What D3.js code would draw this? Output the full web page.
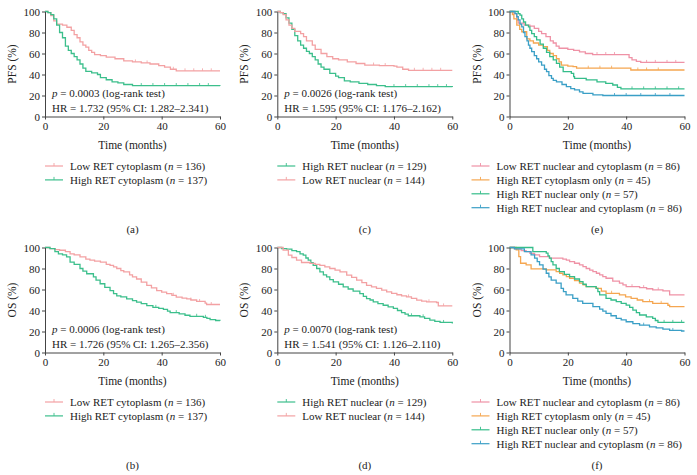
<!DOCTYPE html>
<html>
<head>
<meta charset="utf-8">
<script src="https://cdn.jsdelivr.net/npm/d3@7"></script>
<style>
  body { margin: 0; background: #fff; }
  svg text { font-family: "Liberation Serif", "Times New Roman", serif; fill: #222; }
</style>
</head>
<body>
<svg id="chart" width="697" height="475"></svg>
<script>
// ---- data: [time (months), survival (%)] ----
// (a) PFS, RET cytoplasm
const pfsCytoLow = [[0,100],[1,99],[2,96],[3,91],[4,88],[6,87],[7.5,85],[9,82],[10,78],[11,75],[12,71],[13,68],[14,66],[15,63],[16,61],[17,59],[19,58],[21,56.5],[24,55],[27,53],[30,52],[33,51],[36,50],[39,48.5],[41,47],[43,45],[45,43.5],[60,43.5]];
const pfsCytoHigh = [[0,100],[1,99],[2,97],[3,93],[4,87],[5,80],[6,75],[7,67],[8,63],[9,60],[10,57],[11,54],[12,50],[13,46],[14,43],[16,41.5],[18,40],[19,37],[21,35],[23,33],[25,32],[27,30.5],[30,29.5],[60,29.2]];
const pfsCytoLowCens = [31,35,44,48,51,54,57];
const pfsCytoHighCens = [33,37,41,45,49,53,56];
// (c) PFS, RET nuclear
const pfsNucHigh = [[0,100],[1,99],[2,98],[3,94],[4,89],[5,83],[6,77],[7,72],[8,68],[9,65],[10,62],[11,60],[12,57],[13,54],[14,50],[15,47],[16,45],[18,41],[20,38.5],[21,37],[23,34],[25,33],[28,31.6],[31,30.5],[34,29.5],[37,28.5],[60,28]];
const pfsNucLow = [[0,100],[1,99],[2,97],[3,92],[4,87],[5,84],[6,81],[8,79],[9,76],[10,72],[12,68],[13,64],[15,60],[17,57],[19,55],[21,54],[24,52],[27,50.5],[30,49],[35,48.5],[40,48],[41,47],[43,45],[45,44],[60,44]];
const pfsNucHighCens = [40,44,48,52,55,58];
const pfsNucLowCens = [33,37,47,50,53,56];
// (e) PFS, combined groups
const pfsLowBoth = [[0,100],[1.5,98],[2.5,92],[3,89],[5,87],[7,86],[8.5,84],[10,81],[11,79],[12.5,76],[14,72],[15,70],[16,67],[17,65],[20,64],[22,63],[24,61.5],[26,60],[28.5,59],[41,56],[42,54],[43.5,52.5],[45,51.5],[60,51.5]];
const pfsCytoOnly = [[0,100],[1,97],[1.5,93],[2.5,87],[3.5,83],[4.2,80.7],[5.9,74],[7,72],[8.2,70],[10,68],[11.6,66.5],[13,63],[13.8,60],[15,58],[16.1,55],[17,52],[17.8,49],[20,48],[21.8,47.5],[23,46],[41.6,44.3],[60,44.3]];
const pfsNucOnly = [[0,100],[3,98],[3.6,96.5],[4.2,93],[4.8,90],[5.5,87],[6.5,85.4],[7,82],[7.6,79],[8.5,76],[9.3,73],[10.5,69],[11.6,65],[12.7,61],[13.8,57],[15,54],[16.1,50.6],[17.2,47],[18.4,42.7],[21.2,41],[22,38],[22.3,36.4],[26.3,34.8],[30,33],[33,31.6],[35.4,30],[37,27.8],[38.2,26.3],[60,26.3]];
const pfsHighBoth = [[0,100],[1.9,98],[2.5,95],[3,92],[3.6,88],[4.2,85.4],[4.8,80],[5.3,76],[6,72],[6.5,68],[7,65],[7.6,61.7],[8.5,58],[9.3,55],[10,52],[11,49],[12,45],[12.7,42.7],[13.5,39],[14.4,36.4],[15,34.5],[16.1,33],[18,30.5],[19.5,28.5],[21,26.5],[22.3,25.3],[24,23.5],[25.2,22],[28.6,20.6],[32,20],[60,20]];
const pfsLowBothCens = [30,33,36,47,50,54,57];
const pfsCytoOnlyCens = [27,31,35,44,47,51];
const pfsNucOnlyCens = [42,46,50,54,58];
const pfsHighBothCens = [36,40,45,50,55];
// (b) OS, RET cytoplasm
const osCytoLow = [[0,100],[1.7,99],[3.5,98],[5,97.4],[7,96],[8.6,94],[10,93],[12,91],[14,89],[15.4,88],[17,87],[19,86],[21,84],[22.3,83],[23.5,81.5],[24.6,80],[26,78],[27,76.7],[29,74],[30,72],[31.4,70],[33,67],[34.9,64],[36.5,61.5],[38.3,59],[40,57.5],[41.7,56],[43.5,54.5],[45,52.7],[47,51.7],[48.6,51],[50,50],[52,48.6],[54.9,47],[55.4,45.7],[60,45.7]];
const osCytoHigh = [[0,100],[1.7,99],[3.4,96],[4.6,94],[6,93],[7.4,91],[8.6,86],[10,84],[12,80],[13,77.5],[14.3,75],[16.6,72],[17.5,69],[18.9,65.5],[20.5,62],[22.3,59],[23.5,56],[24.6,54],[26,53],[28,51],[30,49.5],[31.4,48],[33,46.5],[34.9,44.7],[37,43],[39,42],[40.6,41],[42,39.5],[42.9,38],[46,36.7],[48,35.5],[49.7,34.5],[54.3,33.5],[55.5,32.5],[56.6,31.3],[58.5,30.5],[60,30.3]];
const osCytoLowCens = [44,50,53,57];
const osCytoHighCens = [38,45,52,55];
// (d) OS, RET nuclear
const osNucHigh = [[0,100],[1.5,99],[3.2,98.4],[5,97],[6.6,96],[7.8,94],[8.9,92.7],[9.8,90],[10.6,88],[11.5,85.5],[12.3,83],[13.5,80],[14.6,76.8],[15.8,74],[16.9,72],[18,69.5],[19.2,67.3],[21,65],[22.6,62.5],[24.3,60.5],[26,58.4],[28.3,56],[29.5,53.5],[30.6,51.4],[31.8,50],[32.9,48.3],[34.5,46.5],[36.3,45],[38,43.5],[39.8,42],[41.2,40],[42.6,38],[43.8,36.5],[44.9,35],[48.9,34],[50.5,32.5],[52.3,30.8],[54,29.7],[55.8,28.6],[60,27.6]];
const osNucLow = [[0,100],[2,97.5],[3.8,92.7],[5,90.5],[6.6,88],[8.3,85.7],[11.2,84.8],[13,84],[14.6,83],[16.3,81.5],[18,80],[19.8,78.5],[21.5,76.8],[23.8,73.7],[25.5,71.5],[27.2,69],[29,66.5],[30.6,64],[32.3,62.5],[34,61],[35.8,59.5],[37.5,57.8],[39.2,56.3],[41,55],[42.6,54],[44.3,53],[46,51.5],[47.8,49.8],[49.5,49],[51.2,48.3],[54.6,47.6],[55.2,44.4],[60,44.4]];
const osNucHighCens = [46,50,57];
const osNucLowCens = [45,52,57];
// (f) OS, combined groups
const osLowBoth = [[0,100],[1.7,98.7],[4,97],[5.7,96],[7,94.5],[8.6,93],[10.3,91.4],[13.7,89.8],[18.3,89],[19.5,88],[20.6,86.6],[22.3,85],[24,83.4],[25.2,81.7],[26.3,80],[27.5,78.5],[28.6,77],[29.8,75.5],[30.9,74],[32,72.3],[33.1,70.7],[35.4,68],[37.7,66],[38.9,64.5],[40,62.7],[44.6,61.8],[47,60.7],[49.1,59.6],[52.6,58.6],[54.9,54.8],[60,54.8]];
const osCytoOnly = [[0,100],[2.3,97.8],[3.2,91.4],[3.8,85],[5.7,83.4],[7.4,79.6],[12.6,78.7],[16,77],[17.2,75.5],[18.3,74],[19.5,72.3],[20.6,70.7],[22.3,68.5],[24,66],[25.2,64.5],[26.3,62.7],[29.7,61],[31.5,58.5],[33.1,56.4],[37.7,54.8],[39.8,53],[41.7,51.6],[43.8,50],[45.7,48.4],[49.1,46.8],[54.3,45],[54.9,43.6],[60,43.6]];
const osNucOnly = [[0,100],[7.4,100],[8,96],[12.6,94.6],[13.2,92],[13.7,89.8],[14.3,86.5],[14.9,83.4],[16,80],[17.1,77],[18.8,74.5],[20.6,72.3],[22.3,70],[24,67.5],[25.2,65],[26.3,62.7],[29.7,61],[30.3,58],[30.9,54.8],[33.1,51.6],[34.8,50],[36.6,48.4],[38.3,46.8],[40,45.2],[41.2,43],[42.3,40.4],[43.5,38],[44.6,35.7],[46.9,34],[49.1,32.5],[50,30.5],[50.9,28.7],[60,28.7]];
const osHighBoth = [[0,100],[1.7,98.7],[5.1,96],[7.4,93],[8.6,89.8],[9.5,86.5],[10.3,83.4],[11.5,79.5],[12.6,75.5],[13.5,72],[14.3,69],[16,66],[17.7,61],[18.5,58],[19.4,54.8],[21.7,51.6],[23.4,49],[25.1,46.8],[28.6,43.6],[30.9,41.4],[32,39.5],[33.1,37.3],[34.8,35],[36.6,32.5],[38.3,31],[40,29.3],[42.3,27.5],[44.6,26],[48,24.5],[50.3,23.5],[52.6,22.3],[54.9,21],[59,20.5],[60,20.5]];
const osLowBothCens = [42,46,51];
const osCytoOnlyCens = [35,48,52];
const osNucOnlyCens = [53,56,59];
const osHighBothCens = [46,56];

const xTicks = [0, 20, 40, 60];
const yTicks = [0, 20, 40, 60, 80, 100];

const pink = "#f3a1a3", green = "#3cbf8c";
const pink2 = "#ef92a6", orange = "#f5a650", green2 = "#35bd8a", blue = "#3a9fc6";

// ---- layout ----
const W = 175, H = 105;
const colX = [45, 277.3, 509.5];
const rowY = [11.5, 247.5];

const panels = [
  { tag: "(a)", x: colX[0], y: rowY[0], yLabel: "PFS (%)", p: "0.0003", hr: "1.732 (95% CI: 1.282–2.341)", legendDx: 0,
    curves: [
      { d: pfsCytoLow, c: pfsCytoLowCens, color: pink, name: "Low RET cytoplasm", n: 136 },
      { d: pfsCytoHigh, c: pfsCytoHighCens, color: green, name: "High RET cytoplasm", n: 137 }] },
  { tag: "(c)", x: colX[1], y: rowY[0], yLabel: "PFS (%)", p: "0.0026", hr: "1.595 (95% CI: 1.176–2.162)", legendDx: 0,
    curves: [
      { d: pfsNucHigh, c: pfsNucHighCens, color: green, name: "High RET nuclear", n: 129 },
      { d: pfsNucLow, c: pfsNucLowCens, color: pink, name: "Low RET nuclear", n: 144 }] },
  { tag: "(e)", x: colX[2], y: rowY[0], yLabel: "PFS (%)", legendDx: -38,
    curves: [
      { d: pfsLowBoth, c: pfsLowBothCens, color: pink2, name: "Low RET nuclear and cytoplasm", n: 86 },
      { d: pfsCytoOnly, c: pfsCytoOnlyCens, color: orange, name: "High RET cytoplasm only", n: 45 },
      { d: pfsNucOnly, c: pfsNucOnlyCens, color: green2, name: "High RET nuclear only", n: 57 },
      { d: pfsHighBoth, c: pfsHighBothCens, color: blue, name: "High RET nuclear and cytoplasm", n: 86 }] },
  { tag: "(b)", x: colX[0], y: rowY[1], yLabel: "OS (%)", p: "0.0006", hr: "1.726 (95% CI: 1.265–2.356)", legendDx: 0,
    curves: [
      { d: osCytoLow, c: osCytoLowCens, color: pink, name: "Low RET cytoplasm", n: 136 },
      { d: osCytoHigh, c: osCytoHighCens, color: green, name: "High RET cytoplasm", n: 137 }] },
  { tag: "(d)", x: colX[1], y: rowY[1], yLabel: "OS (%)", p: "0.0070", hr: "1.541 (95% CI: 1.126–2.110)", legendDx: 0,
    curves: [
      { d: osNucHigh, c: osNucHighCens, color: green, name: "High RET nuclear", n: 129 },
      { d: osNucLow, c: osNucLowCens, color: pink, name: "Low RET nuclear", n: 144 }] },
  { tag: "(f)", x: colX[2], y: rowY[1], yLabel: "OS (%)", legendDx: -38,
    curves: [
      { d: osLowBoth, c: osLowBothCens, color: pink2, name: "Low RET nuclear and cytoplasm", n: 86 },
      { d: osCytoOnly, c: osCytoOnlyCens, color: orange, name: "High RET cytoplasm only", n: 45 },
      { d: osNucOnly, c: osNucOnlyCens, color: green2, name: "High RET nuclear only", n: 57 },
      { d: osHighBoth, c: osHighBothCens, color: blue, name: "High RET nuclear and cytoplasm", n: 86 }] }
];

const svg = d3.select("#chart");
const x = d3.scaleLinear().domain([0, 60]).range([0, W]);
const y = d3.scaleLinear().domain([0, 100]).range([H, 0]);
const line = d3.line().x(d => x(d[0])).y(d => y(d[1])).curve(d3.curveStepAfter);

// survival value at time t on a step curve
function survAt(data, t) {
  let s = data[0][1];
  data.forEach(d => { if (d[0] <= t) s = d[1]; });
  return s;
}

panels.forEach(p => {
  const g = svg.append("g").attr("transform", `translate(${p.x},${p.y})`);

  // curves
  p.curves.forEach(cv => {
    g.append("path").datum(cv.d)
      .attr("fill", "none").attr("stroke", cv.color).attr("stroke-width", 1.3)
      .attr("d", line);
    g.selectAll(null).data(cv.c).enter().append("line")
      .attr("x1", t => x(t)).attr("x2", t => x(t))
      .attr("y1", t => y(survAt(cv.d, t)) - 2.5).attr("y2", t => y(survAt(cv.d, t)))
      .attr("stroke", cv.color).attr("stroke-width", 0.8);
  });

  // axes
  const ax = g.append("g").attr("transform", `translate(0,${H})`)
    .call(d3.axisBottom(x).tickValues(xTicks).tickSize(3).tickPadding(3).tickSizeOuter(0));
  const ay = g.append("g")
    .call(d3.axisLeft(y).tickValues(yTicks).tickSize(3).tickPadding(2).tickSizeOuter(0));
  [ax, ay].forEach(a => {
    a.select(".domain").attr("stroke", "#444");
    a.selectAll(".tick line").attr("stroke", "#444");
    a.selectAll(".tick text").attr("font-size", 11).attr("fill", "#222")
      .style("font-family", '"Liberation Serif", serif');
  });

  g.append("text").attr("x", W / 2).attr("y", H + 32)
    .attr("text-anchor", "middle").attr("font-size", 11.5).text("Time (months)");
  g.append("text").attr("transform", `translate(-29,${H / 2}) rotate(-90)`)
    .attr("text-anchor", "middle").attr("font-size", 11.5).text(p.yLabel);

  // stats
  if (p.p) {
    const t1 = g.append("text").attr("x", 7).attr("y", 85).attr("font-size", 11);
    t1.append("tspan").attr("font-style", "italic").text("p");
    t1.append("tspan").text(` = ${p.p} (log-rank test)`);
    g.append("text").attr("x", 7).attr("y", 100).attr("font-size", 11).text(`HR = ${p.hr}`);
  }

  // legend
  const lg = g.append("g").attr("transform", `translate(${p.legendDx},154.5)`);
  p.curves.forEach((cv, i) => {
    const row = lg.append("g").attr("transform", `translate(0,${i * 13.9})`);
    row.append("line").attr("x1", 0).attr("x2", 18).attr("y1", 0).attr("y2", 0)
      .attr("stroke", cv.color).attr("stroke-width", 1.2);
    row.append("line").attr("x1", 9).attr("x2", 9).attr("y1", -3).attr("y2", 0)
      .attr("stroke", cv.color).attr("stroke-width", 0.9);
    const tx = row.append("text").attr("x", 25).attr("y", 4).attr("font-size", 11);
    tx.append("tspan").text(`${cv.name} (`);
    tx.append("tspan").attr("font-style", "italic").text("n");
    tx.append("tspan").text(` = ${cv.n})`);
  });

  g.append("text").attr("x", W / 2).attr("y", 221)
    .attr("text-anchor", "middle").attr("font-size", 11).text(p.tag);
});
</script>
</body>
</html>
